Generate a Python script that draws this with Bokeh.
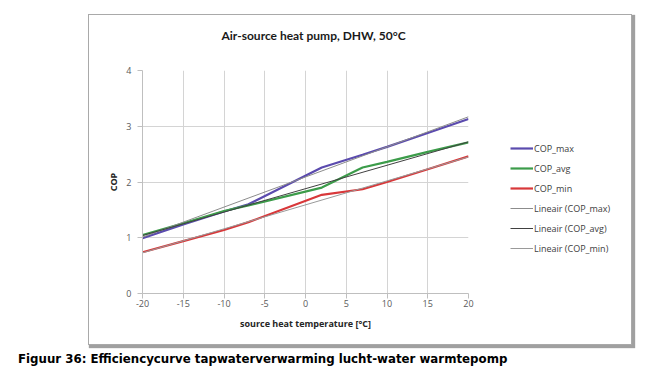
from bokeh.plotting import figure
from bokeh.models import (Range1d, Legend, LegendItem, FixedTicker,
                          ColumnDataSource, Div, Title)
from bokeh.layouts import column
from bokeh.embed import file_html
from bokeh.resources import INLINE

# ---- data ----
temps = [-20, -15, -10, -7, 2, 7, 10, 15, 20]
cop_max = [0.99, 1.24, 1.47, 1.60, 2.26, 2.49, 2.63, 2.88, 3.13]
cop_avg = [1.05, 1.26, 1.48, 1.58, 1.90, 2.26, 2.36, 2.54, 2.71]
cop_min = [0.74, 0.94, 1.14, 1.28, 1.77, 1.87, 2.00, 2.23, 2.46]
trend_x = [-20, 20]
trend_max = [1.01, 3.17]
trend_avg = [1.04, 2.72]
trend_min = [0.73, 2.45]
x_ticks = [-20, -15, -10, -5, 0, 5, 10, 15, 20]
y_ticks = [0, 1, 2, 3, 4]

title_text = "Air-source heat pump, DHW, 50°C"
x_title = "source heat temperature [°C]"
y_title = "COP"
caption = "Figuur 36: Efficiencycurve tapwaterverwarming lucht-water warmtepomp"
series_names = ["COP_max", "COP_avg", "COP_min",
                "Lineair (COP_max)", "Lineair (COP_avg)", "Lineair (COP_min)"]

# ---- layout ----
W, H = 544, 331          # chart box (inside its outline)
ML, MT = 89, 15          # box position on the page
FL, FT, FW, FH = 53, 55, 326, 223

p = figure(frame_width=FW, frame_height=FH, output_backend="svg",
           toolbar_location=None,
           x_range=Range1d(-20, 20), y_range=Range1d(0, 4),
           min_border_left=FL, min_border_right=W - FL - FW,
           min_border_top=FT, min_border_bottom=H - FT - FH,
           margin=(MT, 0, 0, ML))
p.background_fill_color = None
p.border_fill_color = "white"
p.outline_line_color = None

# spacer nearest the frame, so that the title sits higher
p.add_layout(Title(text=" ", text_font_size="9px", standoff=11), "above")

p.title.text = title_text
p.title.align = "left"
p.title.offset = 79
p.title.standoff = 10
p.title.text_font = "Lato"
p.title.text_font_style = "bold"
p.title.text_font_size = "12px"
p.title.text_color = "#1a1a1a"

for ax in (p.xaxis[0], p.yaxis[0]):
    ax.axis_line_color = "#bfbfbf"
    ax.major_tick_line_color = "#bfbfbf"
    ax.minor_tick_line_color = None
    ax.major_tick_in = 0
    ax.major_tick_out = 5
    ax.major_label_text_font = "Open Sans"
    ax.major_label_text_font_size = "9px"
    ax.major_label_text_color = "#595959"
    ax.axis_label_text_font = "Open Sans"
    ax.axis_label_text_font_style = "bold"
    ax.axis_label_text_font_size = "9px"
    ax.axis_label_text_color = "#262626"

p.xaxis[0].ticker = FixedTicker(ticks=x_ticks)
p.yaxis[0].ticker = FixedTicker(ticks=y_ticks)
p.xaxis[0].major_label_overrides = {t: str(t) for t in x_ticks}
p.xaxis[0].axis_label = x_title
p.yaxis[0].axis_label = y_title
p.xaxis[0].major_label_standoff = 1
p.yaxis[0].major_label_standoff = 6
p.xaxis[0].axis_label_standoff = 7
p.yaxis[0].axis_label_standoff = 3

p.xgrid.ticker = FixedTicker(ticks=x_ticks)
p.ygrid.ticker = FixedTicker(ticks=y_ticks)
p.xgrid.grid_line_color = "#d4d4d4"
p.ygrid.grid_line_color = "#d4d4d4"

src = ColumnDataSource(dict(t=temps, mx=cop_max, av=cop_avg, mn=cop_min))
tsrc = ColumnDataSource(dict(t=trend_x, mx=trend_max, av=trend_avg, mn=trend_min))

r_max = p.line("t", "mx", source=src, line_color="#5b4bae", line_width=2.2)
r_avg = p.line("t", "av", source=src, line_color="#3c9c4a", line_width=2.2)
r_min = p.line("t", "mn", source=src, line_color="#d8383a", line_width=2.2)
t_max = p.line("t", "mx", source=tsrc, line_color="#8c8c8c", line_width=1)
t_avg = p.line("t", "av", source=tsrc, line_color="#404040", line_width=1)
t_min = p.line("t", "mn", source=tsrc, line_color="#9a9a9a", line_width=1)

legend = Legend(items=[LegendItem(label=n, renderers=[r])
                       for n, r in zip(series_names,
                                       [r_max, r_avg, r_min, t_max, t_avg, t_min])],
                location=(42, 36), padding=0, margin=0, spacing=2,
                glyph_width=23, glyph_height=18, label_height=18,
                label_standoff=1,
                label_text_font="Open Sans", label_text_font_size="9px",
                label_text_color="#404040",
                border_line_color=None, background_fill_color=None)
p.add_layout(legend, "right")

# outer chart box (fixed to the page, drawn over the chart edges)
box_html = ('<div style="position:fixed; left:%dpx; top:%dpx; width:%dpx; height:%dpx; '
            'border:1px solid #a9a9a9; box-shadow:2px 2px 1px 1px #a0a0a0; '
            'pointer-events:none; background:transparent;"></div>'
            % (ML - 1, MT - 1, W, H))

cap = Div(text=caption + box_html, margin=(7, 0, 0, 18),
          styles={"font-family": "DejaVu Sans", "font-weight": "bold",
                  "font-size": "11.8px", "line-height": "13px", "color": "#000000",
                  "white-space": "nowrap"})

open("out.html", "w").write(file_html(column(p, cap), INLINE))
